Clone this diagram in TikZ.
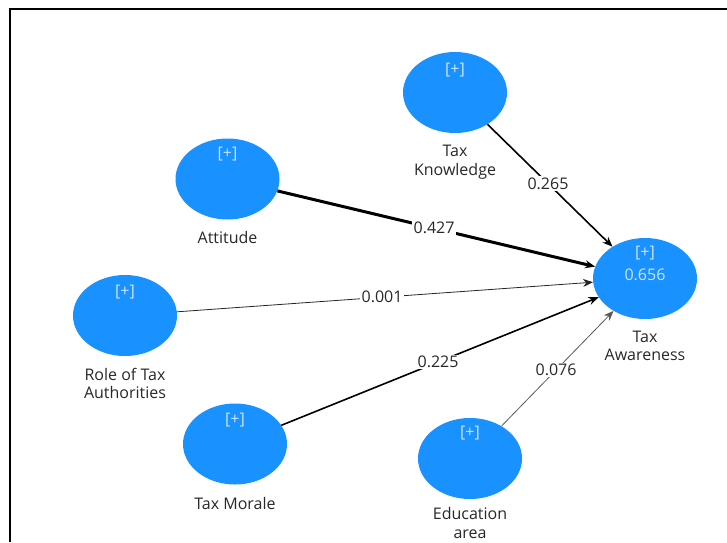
\documentclass[tikz,border=0pt]{standalone}
\usepackage{fontspec}
\setmainfont{Open Sans}
\usetikzlibrary{arrows.meta,shapes.geometric}
\definecolor{lvblue}{RGB}{25,145,255}
\definecolor{plusc}{RGB}{205,228,255}
\definecolor{txt}{RGB}{40,40,40}
\begin{document}
\begin{tikzpicture}[x=1pt,y=-1pt, font=\fontsize{16}{18.5}\selectfont,
 lv/.style={ellipse, fill=lvblue, minimum width=104pt, minimum height=81pt, inner sep=0pt},
 plus/.style={text=plusc, inner sep=0pt},
 lvname/.style={text=txt, align=center, inner sep=0pt},
 pathedge/.style={-{Stealth[length=10pt,width=8pt]}, draw=black},
 coef/.style={fill=white, text=txt, inner sep=1.5pt, pos=#1},
]
\useasboundingbox (0,0) rectangle (727,542);
\draw[line width=2pt] (10,542) -- (10,9) -- (727,9);

\node[lv] (tk) at (455,92.5) {};
\node[lv] (att) at (227.5,179) {};
\node[lv] (rta) at (125,315.5) {};
\node[lv] (tm) at (235,444) {};
\node[lv] (ed) at (470,458.5) {};
\node[lv] (ta) at (645,278.5) {};

\node[plus] (tkp) at (455,70) {[+]};
\node[plus] (attp) at (227.5,154) {[+]};
\node[plus] (rtap) at (125,292) {[+]};
\node[plus] (tmp) at (235,420) {[+]};
\node[plus] (edp) at (470,433) {[+]};
\node[plus] (tap) at (645,253) {[+]};
\node[plus] (tar) at (645,275) {0.656};

\node[lvname] (tkn) at (455,162) {Tax\\Knowledge};
\node[lvname] (attn) at (227.5,237) {Attitude};
\node[lvname] (rtan) at (125,383.5) {Role of Tax\\Authorities};
\node[lvname] (tmn) at (235,503) {Tax Morale};
\node[lvname] (edn) at (470,523) {Education\\area};
\node[lvname] (tan) at (645,346) {Tax\\Awareness};

\draw[pathedge, line width=1.6pt] (tk) -- node[coef=0.484]{0.265} (ta);
\draw[pathedge, line width=3pt] (att) -- node[coef=0.493]{0.427} (ta);
\draw[pathedge, line width=0.8pt, draw=black!85] (rta) -- node[coef=0.493]{0.001} (ta);
\draw[pathedge, line width=1.6pt] (tm) -- node[coef=0.494]{0.225} (ta);
\draw[pathedge, line width=0.8pt, draw=black!65] (ed) -- node[coef=0.487]{0.076} (ta);
\end{tikzpicture}
\end{document}
